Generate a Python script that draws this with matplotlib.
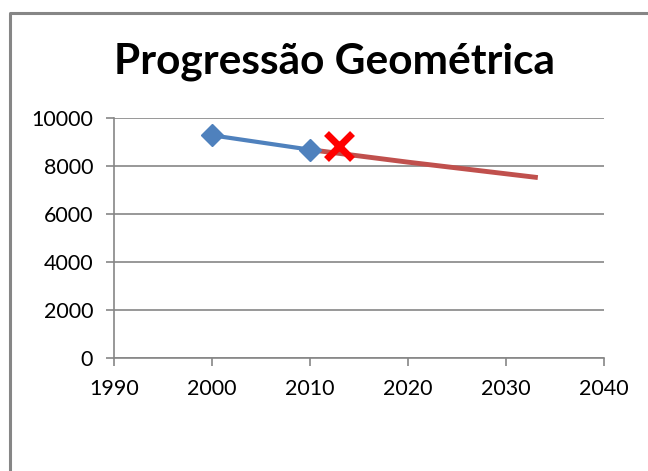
"""Progressao geometrica - Excel style line chart"""

import matplotlib
matplotlib.use("Agg")
import matplotlib.pyplot as plt
from matplotlib.lines import Line2D

# data
anos_hist = [2000, 2010]
pop_hist = [9280, 8680]
anos_proj = [2010, 2020, 2033]
pop_proj = [8680, 8160, 7530]
ano_marca = [2013]
pop_marca = [8830]

x_ticks = [1990, 2000, 2010, 2020, 2030, 2040]
y_ticks = [0, 2000, 4000, 6000, 8000, 10000]

plt.rcParams['font.family'] = ['Lato', 'DejaVu Sans']

fig = plt.figure(figsize=(6.48, 4.71), dpi=100)

# chart frame (Excel chart area border, cut off at right/bottom)
fig.add_artist(Line2D([10 / 648, 10 / 648, 1.0], [0.0, 1 - 13 / 471, 1 - 13 / 471],
                      transform=fig.transFigure, color='#868686', linewidth=2.2))

ax = fig.add_axes([114 / 648, 1 - 358 / 471, 490 / 648, 240 / 471])

ax.plot(anos_proj, pop_proj, color='#C0504D', linewidth=3.5, zorder=2)
ax.plot(anos_hist, pop_hist, color='#4F81BD', linewidth=3, marker='D',
        markersize=11, zorder=3)
ax.plot(ano_marca, pop_marca, linestyle='none', marker='x', color='#FF0000',
        markersize=19, markeredgewidth=5, zorder=4)

ax.set_xlim(1990, 2040)
ax.set_ylim(0, 10000)
ax.set_xticks(x_ticks)
ax.set_yticks(y_ticks)
ax.tick_params(labelsize=15.5, color='#868686', length=6, width=1.2)
ax.tick_params(axis='x', pad=9)
ax.tick_params(axis='y', pad=9)
ax.yaxis.grid(True, color='#868686', linewidth=1.2)
ax.set_axisbelow(True)
for side in ['top', 'right']:
    ax.spines[side].set_visible(False)
for side in ['left', 'bottom']:
    ax.spines[side].set_color('#868686')
    ax.spines[side].set_linewidth(1.2)

fig.text(334 / 648, 1 - 62 / 471, 'Progressão Geométrica', ha='center',
         va='center', fontsize=30.5, fontweight='bold')

fig.savefig('out.png', dpi=100)
